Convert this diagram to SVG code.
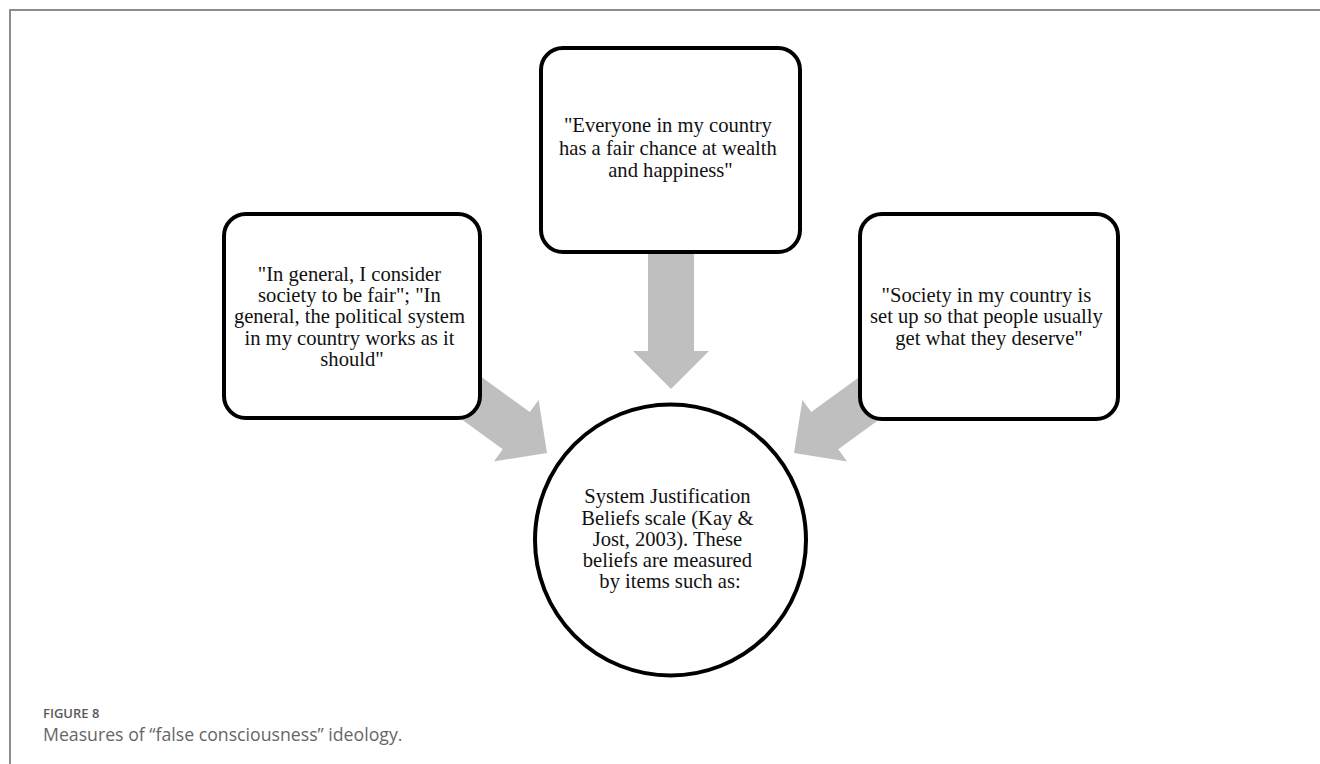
<svg xmlns="http://www.w3.org/2000/svg" xmlns:xlink="http://www.w3.org/1999/xlink" width="1320" height="764" viewBox="0 0 1320 764">
  <style>
    .frame { stroke: #8c8c8c; stroke-width: 2; fill: none; }
    .box { fill: #ffffff; stroke: #000000; stroke-width: 4; }
    .label { font-family: "Liberation Serif", "Times New Roman", serif; font-size: 20.6px; fill: #111111; text-anchor: middle; }
    .arrow { fill: #bfbfbf; }
    .cap-title { font-family: "Open Sans", "Noto Sans", sans-serif; font-size: 13px; font-weight: 600; fill: #5a5a5a; }
    .cap-text { font-family: "Open Sans", "Noto Sans", sans-serif; font-size: 17.7px; fill: #666666; }
  </style>
  <defs>
    <!-- block arrow pointing down, tip at the origin -->
    <polygon id="blockArrow" points="-23,-140 23,-140 23,-38 38,-38 0,0 -38,-38 -23,-38 -23,-140"/>
  </defs>

  <rect width="1320" height="764" fill="#ffffff"/>

  <!-- page frame -->
  <path class="frame" d="M10,764 V10 H1320"/>

  <!-- connectors: block arrows into the central circle -->
  <g id="connectors" class="arrow">
    <use xlink:href="#blockArrow" transform="translate(671,389)"/>
    <use xlink:href="#blockArrow" transform="translate(547,453) rotate(-54)"/>
    <use xlink:href="#blockArrow" transform="translate(794,453) rotate(54)"/>
  </g>

  <g id="node-left">
    <rect class="box" x="224" y="214" width="256" height="204" rx="22" ry="22"/>
    <text class="label">
      <tspan x="352" y="280.5">"In general, I consider</tspan>
      <tspan x="352" y="302">society to be fair"; "In</tspan>
      <tspan x="352" y="323">general, the political system</tspan>
      <tspan x="352" y="344.5">in my country works as it</tspan>
      <tspan x="352" y="366">should"</tspan>
    </text>
  </g>

  <g id="node-top">
    <rect class="box" x="541" y="48" width="259" height="204" rx="22" ry="22"/>
    <text class="label">
      <tspan x="670.5" y="132">"Everyone in my country</tspan>
      <tspan x="670.5" y="154.5">has a fair chance at wealth</tspan>
      <tspan x="670.5" y="177">and happiness"</tspan>
    </text>
  </g>

  <g id="node-right">
    <rect class="box" x="860" y="214" width="258" height="205" rx="22" ry="22"/>
    <text class="label">
      <tspan x="989" y="302">"Society in my country is</tspan>
      <tspan x="989" y="323">set up so that people usually</tspan>
      <tspan x="989" y="344.5">get what they deserve"</tspan>
    </text>
  </g>

  <g id="node-center">
    <circle class="box" cx="670.5" cy="540" r="135.5"/>
    <text class="label">
      <tspan x="670" y="503">System Justification</tspan>
      <tspan x="670" y="524.5">Beliefs scale (Kay &amp;</tspan>
      <tspan x="670" y="546">Jost, 2003). These</tspan>
      <tspan x="670" y="567">beliefs are measured</tspan>
      <tspan x="670" y="588">by items such as:</tspan>
    </text>
  </g>

  <g id="caption">
    <text class="cap-title" x="43" y="718">FIGURE 8</text>
    <text class="cap-text" x="43" y="741">Measures of “false consciousness” ideology.</text>
  </g>
</svg>
